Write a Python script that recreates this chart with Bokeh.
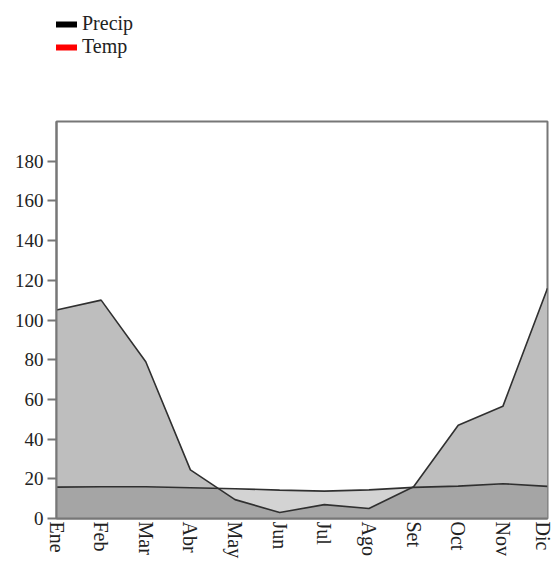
from bokeh.plotting import figure
from bokeh.layouts import column
from bokeh.models import Range1d, FixedTicker, Legend, LegendItem, ColumnDataSource
from bokeh.embed import file_html
from bokeh.resources import INLINE

months = ["Ene", "Feb", "Mar", "Abr", "May", "Jun", "Jul", "Ago", "Set", "Oct", "Nov", "Dic"]
precip = [105, 110, 79, 24.5, 9.5, 3, 7, 5, 16, 47, 56.5, 116]
temp = [15.8, 16.0, 16.0, 15.5, 15.0, 14.3, 13.8, 14.4, 15.7, 16.3, 17.5, 16.2]
y_ticks = [0, 20, 40, 60, 80, 100, 120, 140, 160, 180]

x = list(range(len(months)))
src = ColumnDataSource(dict(x=x, precip=precip, temp=temp, zero=[0] * len(x)))

# ---- legend strip (series drawn out of view; only the legend shows) ----
lf = figure(width=553, height=111, output_backend="svg", toolbar_location=None,
            x_axis_type=None, y_axis_type=None,
            x_range=Range1d(0, 1), y_range=Range1d(1000, 1001),
            min_border=0, outline_line_color=None)
lf.grid.visible = False
r_p = lf.line(x="x", y="precip", source=src, line_color="black", line_width=6)
r_t = lf.line(x="x", y="temp", source=src, line_color="red", line_width=6)
legend = Legend(items=[LegendItem(label="Precip", renderers=[r_p]),
                       LegendItem(label="Temp", renderers=[r_t])],
                location=(-6, 53), border_line_color=None, background_fill_alpha=0,
                padding=0, margin=0, spacing=-3, glyph_width=27, glyph_height=20,
                label_standoff=5, label_text_font="Liberation Serif",
                label_text_font_size="20px", label_height=20,
                label_text_color="#222222")
lf.add_layout(legend, "center")

# ---- main chart ----
p = figure(width=553, height=450, output_backend="svg", toolbar_location=None,
           x_range=Range1d(0, len(months) - 1), y_range=Range1d(0, 200),
           min_border_left=56, min_border_right=6, min_border_top=10, min_border_bottom=42)

p.varea(x="x", y1="zero", y2="precip", source=src, fill_color="#bebebe")
p.varea(x="x", y1="zero", y2="temp", source=src, fill_color="#686868", fill_alpha=0.29)
p.line(x="x", y="precip", source=src, line_color="#303030", line_width=1.6)
p.line(x="x", y="temp", source=src, line_color="#303030", line_width=1.6)

p.xgrid.visible = False
p.ygrid.visible = False
p.outline_line_color = "#777777"
p.outline_line_width = 2

p.xaxis.ticker = FixedTicker(ticks=x)
p.xaxis.major_label_overrides = {i: m for i, m in zip(x, months)}
p.xaxis.major_label_orientation = "vertical"
p.xaxis.major_tick_out = 0
p.xaxis.major_tick_in = 0
p.xaxis.minor_tick_line_color = None
p.xaxis.major_label_standoff = 3
p.xaxis.major_label_text_font_size = "20px"

p.yaxis.ticker = FixedTicker(ticks=y_ticks)
p.yaxis.major_tick_out = 9
p.yaxis.major_tick_in = 0
p.yaxis.minor_tick_line_color = None
p.yaxis.major_label_standoff = 4
p.yaxis.major_label_text_font_size = "19px"

for ax in (p.xaxis, p.yaxis):
    ax.axis_line_color = "#777777"
    ax.axis_line_width = 2
    ax.major_tick_line_color = "#777777"
    ax.major_tick_line_width = 2
    ax.major_label_text_font = "Liberation Serif"
    ax.major_label_text_color = "#222222"

layout = column(lf, p, spacing=0)
open("out.html", "w").write(file_html(layout, INLINE))
